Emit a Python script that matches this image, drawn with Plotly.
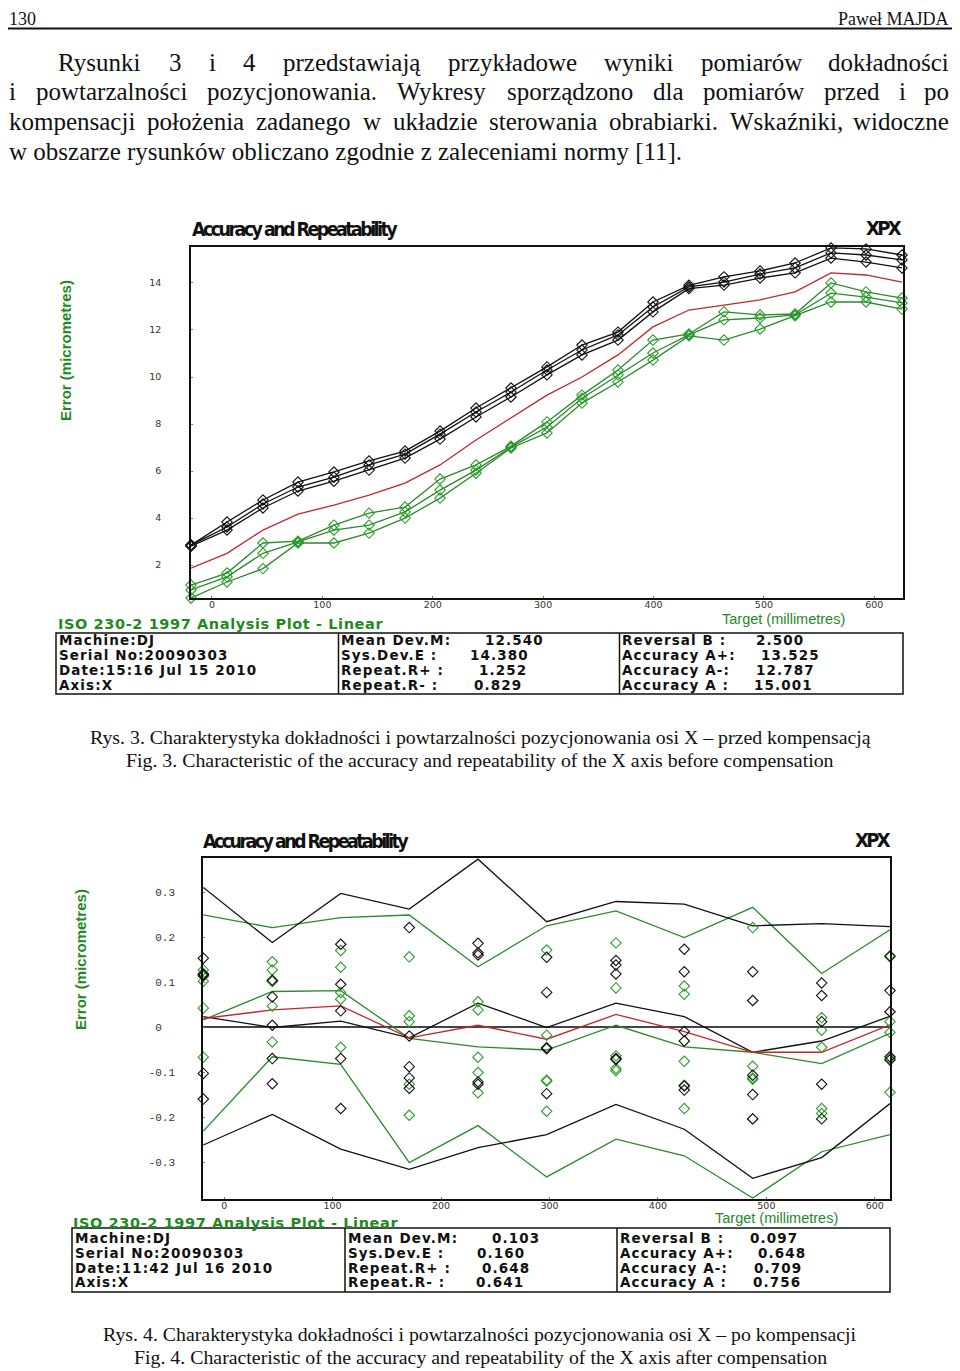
import plotly.graph_objects as go

# The page body has an 8px margin, so the figure is drawn 8px in from the window corner.
OFF = 8
FW, FH = 960 - OFF, 1371 - OFF


def px(x):
    return (x - OFF) / FW


def py(y):
    return 1 - (y - OFF) / FH


# ---------------- Fig. 3 data (before compensation) ----------------
targets_before = [-19, 13.6, 46.2, 77.9, 110.5, 142.3, 174.9, 206.6, 239.2, 270.9, 303.5,
                  335.2, 367.8, 399.5, 432.1, 463.8, 496.5, 528.2, 560.8, 592.5, 625.1]
fwd_upper_before = [2.85, 3.83, 4.77, 5.53, 5.96, 6.43, 6.85, 7.70, 8.68, 9.53, 10.43,
                    11.36, 11.91, 13.19, 13.90, 14.26, 14.51, 14.85, 15.49, 15.45, 15.19]
fwd_mean_before = [2.85, 3.62, 4.60, 5.32, 5.74, 6.26, 6.72, 7.57, 8.51, 9.36, 10.30,
                   11.15, 11.79, 12.98, 13.83, 14.04, 14.38, 14.64, 15.28, 15.19, 14.98]
fwd_lower_before = [2.80, 3.49, 4.43, 5.15, 5.57, 6.04, 6.55, 7.36, 8.30, 9.15, 10.09,
                    10.94, 11.57, 12.77, 13.76, 13.91, 14.21, 14.43, 15.06, 14.89, 14.64]
bidir_before = [1.87, 2.50, 3.49, 4.17, 4.55, 4.98, 5.49, 6.26, 7.32, 8.26, 9.23,
                10.00, 10.94, 12.13, 12.85, 13.06, 13.28, 13.62, 14.43, 14.34, 14.04]
rev_upper_before = [1.15, 1.66, 2.94, 3.02, 3.70, 4.21, 4.47, 5.66, 6.26, 7.06, 8.09,
                    9.23, 10.30, 11.57, 11.83, 12.77, 12.64, 12.68, 14.00, 13.62, 13.36]
rev_mean_before = [0.94, 1.50, 2.50, 2.98, 3.49, 3.70, 4.26, 5.19, 6.04, 7.02, 7.87,
                   9.10, 10.09, 11.02, 11.79, 12.43, 12.51, 12.64, 13.57, 13.40, 13.15]
rev_lower_before = [0.60, 1.28, 1.85, 2.94, 2.94, 3.36, 4.00, 4.85, 5.91, 6.98, 7.62,
                    8.89, 9.79, 10.72, 11.75, 11.57, 12.04, 12.60, 13.19, 13.19, 12.89]
yticks_before = [2, 4, 6, 8, 10, 12, 14]
xticks = [0, 100, 200, 300, 400, 500, 600]

# ---------------- Fig. 4 data (after compensation) ----------------
targets_after = [-19.2, 44.4, 107.5, 170.7, 234.1, 297.4, 361.3, 424.3, 487.4, 551.0, 614.0]
fwd_upper_after = [0.310, 0.188, 0.297, 0.262, 0.373, 0.234, 0.279, 0.273, 0.225, 0.230, 0.223]
fwd_mean_after = [0.023, -0.001, 0.013, -0.024, 0.053, -0.001, 0.053, 0.023, -0.056, -0.031, 0.024]
fwd_lower_after = [-0.262, -0.194, -0.271, -0.316, -0.268, -0.239, -0.172, -0.227, -0.336, -0.290, -0.170]
bidir_after = [0.019, 0.038, 0.047, -0.024, 0.004, -0.027, 0.028, -0.010, -0.056, -0.056, 0.005]
rev_upper_after = [0.249, 0.221, 0.243, 0.249, 0.134, 0.225, 0.258, 0.199, 0.266, 0.119, 0.216]
rev_mean_after = [0.016, 0.079, 0.081, -0.025, -0.044, -0.051, 0.004, -0.044, -0.056, -0.081, -0.014]
rev_lower_after = [-0.231, -0.066, -0.083, -0.301, -0.219, -0.333, -0.249, -0.286, -0.380, -0.277, -0.239]
fwd_runs_after = [
    [0.153, 0.117, 0.114, -0.103, -0.160],
    [0.104, 0.067, 0.004, -0.070, -0.126],
    [0.184, 0.095, 0.036, -0.070, -0.181],
    [0.221, -0.020, -0.088, -0.113, -0.136],
    [0.186, 0.165, 0.160, -0.122, -0.127],
    [0.155, 0.077, -0.046, -0.048, -0.148],
    [0.148, 0.138, 0.118, -0.070, -0.072],
    [0.173, 0.123, -0.010, -0.031, -0.131, -0.140],
    [0.123, 0.059, -0.107, -0.150, -0.204],
    [0.098, 0.070, 0.012, -0.127, -0.204],
    [0.158, 0.081, 0.034, -0.066, -0.073],
]
rev_runs_after = [
    [0.127, 0.119, 0.102, 0.042, -0.067],
    [0.145, 0.127, 0.101, 0.047, -0.033],
    [0.170, 0.133, 0.077, 0.062, -0.045],
    [0.156, 0.025, 0.012, -0.127, -0.196],
    [0.056, 0.038, -0.067, -0.101, -0.146],
    [0.171, -0.018, -0.118, -0.120, -0.187],
    [0.187, 0.087, -0.064, -0.092, -0.097],
    [0.091, 0.073, -0.076, -0.129, -0.181],
    [0.221, -0.087, -0.113, -0.116, -0.204],
    [0.021, -0.007, -0.045, -0.181, -0.192],
    [0.156, 0.012, -0.012, -0.070, -0.145],
]
yticks_after = [0.3, 0.2, 0.1, 0, -0.1, -0.2, -0.3]
yticktext_after = ["0.3", "0.2", "0.1", "0\u00a0\u00a0", "-0.1", "-0.2", "-0.3"]

# ---------------- table texts ----------------
info_before = ["Machine:DJ", "Serial No:20090303", "Date:15:16 Jul 15 2010", "Axis:X"]
info_after = ["Machine:DJ", "Serial No:20090303", "Date:11:42 Jul 16 2010", "Axis:X"]
stat_labels = ["Mean Dev.M:", "Sys.Dev.E :", "Repeat.R+ :", "Repeat.R- :"]
acc_labels = ["Reversal B :", "Accuracy A+:", "Accuracy A-:", "Accuracy A :"]
stat_before = ["12.540", "14.380", "1.252", "0.829"]
acc_before = ["2.500", "13.525", "12.787", "15.001"]
stat_after = ["0.103", "0.160", "0.648", "0.641"]
acc_after = ["0.097", "0.648", "0.709", "0.756"]

# ---------------- page texts ----------------
header_left = "130"
header_right = "Paweł MAJDA"
paragraph = [
    "Rysunki 3 i 4 przedstawiają przykładowe wyniki pomiarów dokładności",
    "i powtarzalności pozycjonowania. Wykresy sporządzono dla pomiarów przed i po",
    "kompensacji położenia zadanego w układzie sterowania obrabiarki. Wskaźniki, widoczne",
    "w obszarze rysunków obliczano zgodnie z zaleceniami normy [11].",
]
caption3 = ["Rys. 3. Charakterystyka dokładności i powtarzalności pozycjonowania osi X – przed kompensacją",
            "Fig. 3. Characteristic of the accuracy and repeatability of the X axis before compensation"]
caption4 = ["Rys. 4. Charakterystyka dokładności i powtarzalności pozycjonowania osi X – po kompensacji",
            "Fig. 4. Characteristic of the accuracy and repeatability of the X axis after compensation"]
chart_title = "Accuracy and Repeatability"
brand = "XPX"
plot_name = "ISO 230-2 1997 Analysis Plot - Linear"
x_title = "Target (millimetres)"
y_title = "Error (micrometres)"

# ---------------- styles ----------------
BLACK = "#111111"
RED = "#c0282d"
GREEN_L = "#2b8a2b"
GREEN_M = "#2a9d2a"
GREEN_T = "#1f8a1f"
SERIF = "Liberation Serif, Times New Roman, serif"
WIDE = "DejaVu Sans, Verdana, sans-serif"
NARROW = "DejaVu Sans Condensed, Liberation Sans Narrow, sans-serif"
ARIAL = "Liberation Sans, Arial, sans-serif"

# Times metrics (1/1000 em) for justified text layout
TIMES = {' ': 250, 'a': 444, 'b': 500, 'c': 444, 'd': 500, 'e': 444, 'f': 333, 'g': 500, 'h': 500,
         'i': 278, 'j': 278, 'k': 500, 'l': 278, 'm': 778, 'n': 500, 'o': 500, 'p': 500, 'q': 500,
         'r': 333, 's': 389, 't': 278, 'u': 500, 'v': 500, 'w': 722, 'x': 500, 'y': 500, 'z': 444,
         'A': 722, 'B': 667, 'C': 667, 'D': 722, 'E': 611, 'F': 556, 'G': 722, 'H': 722, 'I': 333,
         'J': 389, 'K': 722, 'L': 611, 'M': 889, 'N': 722, 'O': 722, 'P': 556, 'Q': 722, 'R': 667,
         'S': 556, 'T': 611, 'U': 722, 'V': 722, 'W': 944, 'X': 722, 'Y': 722, 'Z': 611,
         '.': 250, ',': 250, '[': 333, ']': 333, '-': 333, '–': 500,
         'ą': 444, 'ę': 444, 'ó': 500, 'ł': 278, 'ś': 389, 'ć': 444, 'ń': 500, 'ż': 444, 'ź': 444}


def tw(s, size):
    return sum(TIMES.get(c, 500) for c in s) * size / 1000


fig = go.Figure()


def add_line(xs, ys, color, xa, ya, marker=None):
    fig.add_trace(go.Scatter(
        x=xs, y=ys, xaxis=xa, yaxis=ya,
        mode="lines+markers" if marker else "lines",
        line=dict(color=color, width=1.3),
        marker=dict(symbol="diamond-open", size=8, color=marker, line=dict(width=1.1)) if marker else None,
        hoverinfo="skip", showlegend=False, cliponaxis=False))


# top chart
add_line(targets_before, bidir_before, RED, "x", "y")
for s in (rev_upper_before, rev_mean_before, rev_lower_before):
    add_line(targets_before, s, GREEN_L, "x", "y", GREEN_M)
for s in (fwd_upper_before, fwd_mean_before, fwd_lower_before):
    add_line(targets_before, s, BLACK, "x", "y", BLACK)

# bottom chart
for s in (rev_upper_after, rev_mean_after, rev_lower_after):
    add_line(targets_after, s, GREEN_L, "x2", "y2")
for s in (fwd_upper_after, fwd_mean_after, fwd_lower_after):
    add_line(targets_after, s, BLACK, "x2", "y2")
add_line(targets_after, bidir_after, RED, "x2", "y2")

for runs, color in ((rev_runs_after, GREEN_M), (fwd_runs_after, BLACK)):
    xs, ys = [], []
    for t, vals in zip(targets_after, runs):
        for v in vals:
            xs.append(t)
            ys.append(v)
    fig.add_trace(go.Scatter(x=xs, y=ys, xaxis="x2", yaxis="y2", mode="markers",
                             marker=dict(symbol="diamond-open", size=8, color=color, line=dict(width=1.1)),
                             hoverinfo="skip", showlegend=False, cliponaxis=False))

axis_common = dict(showline=True, mirror=True, linecolor=BLACK, linewidth=1.5, showgrid=False,
                   zeroline=False, ticks="inside", ticklen=2, tickcolor="#777", fixedrange=True)

fig.update_layout(
    width=FW, height=FH, margin=dict(l=0, r=0, t=0, b=0),
    paper_bgcolor="white", plot_bgcolor="white", showlegend=False,
    xaxis=dict(domain=[px(191), px(903)], range=[-19, 626], tickvals=xticks, anchor="y",
               tickfont=dict(family=WIDE, size=9.5, color="#333"), ticklabelstandoff=-3, **axis_common),
    yaxis=dict(domain=[py(598), py(247)], range=[0.6, 15.53], tickvals=yticks_before, anchor="x",
               tickfont=dict(family=WIDE, size=9.5, color="#333"), ticklabelstandoff=26, **axis_common),
    xaxis2=dict(domain=[px(203), px(890)], range=[-19.5, 614], tickvals=xticks, anchor="y2",
                tickfont=dict(family=WIDE, size=9.5, color="#333"), ticklabelstandoff=-3, **axis_common),
    yaxis2=dict(domain=[py(1199), py(858)], range=[-0.382, 0.3756], tickvals=yticks_after,
                ticktext=yticktext_after, anchor="x2",
                tickfont=dict(family="Liberation Mono, DejaVu Sans Mono, monospace", size=11, color="#333"),
                ticklabelstandoff=24,
                **{**axis_common, "zeroline": True}, zerolinecolor="#444", zerolinewidth=1.5),
)

ann = []
shapes = []


def text(x, y, s, size, family, color=BLACK, xanchor="left", angle=0, yanchor="middle"):
    ann.append(dict(xref="paper", yref="paper", x=px(x), y=py(y), text=s, showarrow=False,
                    xanchor=xanchor, yanchor=yanchor, textangle=angle, borderpad=0,
                    font=dict(family=family, size=size, color=color)))


def spaced(s, ls, bold=True):
    inner = "<b>" + s + "</b>" if bold else s
    return '<span style="letter-spacing:%spx">%s</span>' % (ls, inner)


# header
text(8, 8.5, header_left, 18, SERIF, yanchor="top")
text(950, 8.5, header_right, 18, SERIF, xanchor="right", yanchor="top")
shapes.append(dict(type="line", xref="paper", yref="paper", x0=0, x1=1, y0=py(28.5), y1=py(28.5),
                   line=dict(color=BLACK, width=2)))

# paragraph (justified; last word right-aligned to the text block edge)
PSIZE = 25
RIGHT = 950
line_y = [62, 92, 122, 152]
line_x0 = [57, 8, 8, 8]
for i, line in enumerate(paragraph):
    words = line.split(" ")
    if i < 3:
        widths = [tw(w, PSIZE) for w in words]
        gap = (RIGHT - line_x0[i] - sum(widths)) / (len(words) - 1)
        x = line_x0[i]
        for k, (w, wd) in enumerate(zip(words, widths)):
            if k == len(words) - 1:
                text(RIGHT, line_y[i], w, PSIZE, SERIF, xanchor="right")
            else:
                text(x, line_y[i], w, PSIZE, SERIF)
            x += wd + gap
    else:
        text(line_x0[i], line_y[i], line, PSIZE, SERIF)

# captions
CSIZE = 782 / tw(caption3[0], 1)
text(480, 737, caption3[0], CSIZE, SERIF, xanchor="center")
text(480, 760, caption3[1], CSIZE, SERIF, xanchor="center")
text(480, 1334, caption4[0], CSIZE, SERIF, xanchor="center")
text(480, 1357, caption4[1], CSIZE, SERIF, xanchor="center")

# chart decorations
for (tx, ty, bx, by, yx, yy, xtx, xty, isx, isy) in (
        (191, 229, 903, 228, 65, 351, 783, 619, 57, 624),
        (202, 841, 892, 840, 80, 960, 776, 1218, 72, 1223)):
    text(tx, ty, spaced(chart_title, -2.6), 19.5, NARROW)
    text(bx, by, spaced(brand, -2.6), 20, NARROW, xanchor="right")
    text(yx, yy, "<b>" + y_title + "</b>", 15, ARIAL, GREEN_T, xanchor="center", angle=-90)
    text(xtx, xty, x_title, 14.5, ARIAL, GREEN_T, xanchor="center")
    text(isx, isy, spaced(plot_name, 0.6), 14.5, WIDE, GREEN_T)

# tables
TSIZE = 13.5
TLS = 1.1
for (x0, x1, y0, y1, d1, d2, rows, info, stats, accs, sx, ax) in (
        (56, 903, 633, 694, 338.5, 619.5, [640, 655, 670, 685], info_before, stat_before, acc_before,
         [484, 469, 478, 473], [755, 760, 755, 753]),
        (72, 890, 1228, 1292, 345, 617, [1238, 1253, 1268, 1282], info_after, stat_after, acc_after,
         [491, 476, 481, 475], [749, 757, 753, 752])):
    shapes.append(dict(type="rect", xref="paper", yref="paper", x0=px(x0), x1=px(x1), y0=py(y1), y1=py(y0),
                       line=dict(color=BLACK, width=1.5)))
    for d in (d1, d2):
        shapes.append(dict(type="line", xref="paper", yref="paper", x0=px(d), x1=px(d), y0=py(y1), y1=py(y0),
                           line=dict(color=BLACK, width=1.5)))
    for r in range(4):
        text(x0 + 1.5, rows[r], spaced(info[r], TLS), TSIZE, WIDE)
        text(d1 + 1.5, rows[r], spaced(stat_labels[r], TLS), TSIZE, WIDE)
        text(sx[r], rows[r], spaced(stats[r], TLS), TSIZE, WIDE)
        text(d2 + 1.5, rows[r], spaced(acc_labels[r], TLS), TSIZE, WIDE)
        text(ax[r], rows[r], spaced(accs[r], TLS), TSIZE, WIDE)

fig.update_layout(annotations=ann, shapes=shapes)
fig.write_html("out.html")
